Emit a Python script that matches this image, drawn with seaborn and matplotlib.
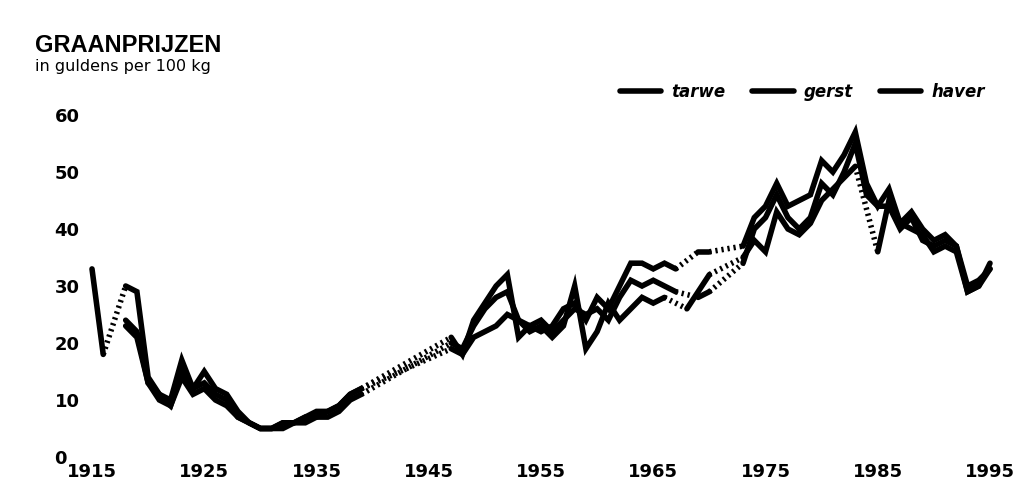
import numpy as np
import pandas as pd
import matplotlib
matplotlib.use("Agg")
import matplotlib.pyplot as plt
import seaborn as sns
from matplotlib.lines import Line2D

nan = np.nan

# jaren 1915 - 1995
jaren = list(range(1915, 1996))

tarwe = [33, 18, nan, 30, 29, 14, 11, 10, 17, 12,
         15, 12, 11, 8, 6, 5, 5, 6, 6, 7,
         8, 8, 9, 11, 12, nan, nan, nan, nan, nan,
         nan, nan, 21, 18, 24, 27, 30, 32, 21, 23,
         22, 23, 26, 27, 24, 28, 26, 30, 34, 34,
         33, 34, 33, nan, 36, 36, nan, nan, 37, 42,
         44, 48, 44, 45, 46, 52, 50, 53, 57, 48,
         44, 47, 41, 43, 40, 38, 39, 37, 29, 30,
         34]

gerst = [nan, nan, nan, 23, 21, 13, 11, 9, 14, 11,
         12, 10, 9, 7, 6, 5, 5, 5, 6, 6,
         7, 7, 8, 10, 11, nan, nan, nan, nan, nan,
         nan, nan, 20, 19, 23, 26, 28, 29, 24, 23,
         24, 22, 24, 26, 25, 26, 24, 28, 31, 30,
         31, 30, 29, nan, 28, 29, nan, nan, 34, 40,
         42, 46, 42, 40, 42, 48, 46, 50, 55, 46,
         44, 44, 40, 42, 38, 37, 38, 37, 30, 31,
         33]

haver = [nan, nan, nan, 24, 22, 13, 10, 9, 15, 12,
         13, 11, 10, 7, 6, 5, 5, 6, 6, 7,
         7, 8, 9, 11, 12, nan, nan, nan, nan, nan,
         nan, nan, 19, 18, 21, 22, 23, 25, 24, 22,
         23, 21, 23, 30, 19, 22, 27, 24, 26, 28,
         27, 28, nan, 26, 29, 32, nan, nan, 35, 38,
         36, 43, 40, 39, 41, 45, 47, 49, 51, nan,
         36, 45, 41, 40, 39, 36, 37, 36, 29, 30,
         33]

graan = ["tarwe", "gerst", "haver"]
y_ticks = [0, 10, 20, 30, 40, 50, 60]
x_ticks = [1915, 1925, 1935, 1945, 1955, 1965, 1975, 1985, 1995]

sns.set_style("white")
plt.rcParams["font.family"] = ["Liberation Sans Narrow", "DejaVu Sans"]
plt.rcParams["text.color"] = "black"
plt.rcParams["xtick.color"] = "black"
plt.rcParams["ytick.color"] = "black"

fig = plt.figure(figsize=(10.3, 4.92), dpi=100)
ax = fig.add_axes([92 / 1030, 35 / 492, 898 / 1030, 342 / 492])

lw = 4.0
for naam, waarden in zip(graan, [tarwe, gerst, haver]):
    df = pd.DataFrame({"jaar": jaren, "prijs": waarden})
    df["seg"] = df["prijs"].isna().cumsum()
    geldig = df.dropna()
    # doorgetrokken stukken
    for _, stuk in geldig.groupby("seg"):
        if len(stuk) > 1:
            sns.lineplot(data=stuk, x="jaar", y="prijs", color="black",
                         linewidth=lw, ax=ax, solid_joinstyle="miter", clip_on=False)
    # gestippelde verbinding over ontbrekende jaren
    jr = geldig["jaar"].to_numpy()
    pr = geldig["prijs"].to_numpy()
    for i in range(len(jr) - 1):
        if jr[i + 1] - jr[i] > 1:
            ax.plot([jr[i], jr[i + 1]], [pr[i], pr[i + 1]], color="black",
                    linewidth=lw, linestyle=(0, (0.4, 0.7)), dash_capstyle="butt")

ax.set_xlim(1915, 1995)
ax.set_ylim(0, 60)
sns.despine(ax=ax, left=True, bottom=True)
ax.set_xlabel("")
ax.set_ylabel("")
ax.set_yticks(y_ticks)
ax.set_yticklabels([str(v) for v in y_ticks], fontsize=13, fontweight="bold")
ax.set_xticks(x_ticks)
ax.set_xticklabels([str(v) for v in x_ticks], fontsize=13, fontweight="bold")
ax.tick_params(axis="y", length=0, pad=27)
ax.tick_params(axis="x", length=0, pad=4)
for t in ax.get_yticklabels():
    t.set_ha("left")

fig.text(35 / 1030, 1 - 45 / 492, "GRAANPRIJZEN", fontsize=17, fontweight="bold",
         va="center", ha="left", family=["Liberation Sans", "DejaVu Sans"])
fig.text(35 / 1030, 1 - 67 / 492, "in guldens per 100 kg", fontsize=11.5,
         va="center", ha="left")

handles = [Line2D([0], [0], color="black", linewidth=lw) for _ in graan]
fig.legend(handles, graan, ncol=3, frameon=False, loc="center right",
           bbox_to_anchor=(1000 / 1030, 1 - 92 / 492), handlelength=2.5,
           columnspacing=1.6, handletextpad=0.6,
           prop={"style": "italic", "size": 12, "weight": "bold"})

fig.savefig("out.png", dpi=100)
